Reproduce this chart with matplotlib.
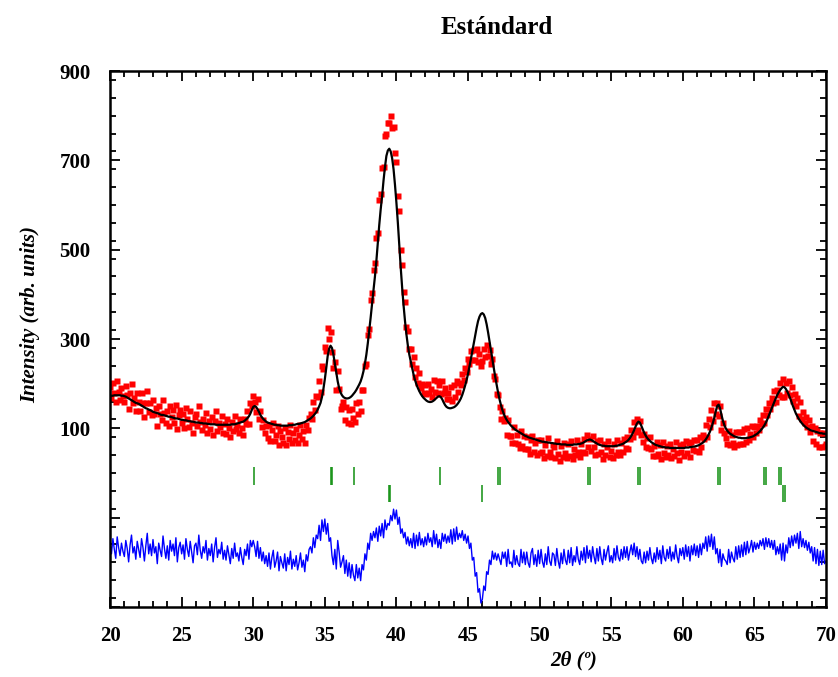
import numpy as np
import matplotlib.pyplot as plt
from matplotlib.ticker import MultipleLocator

plt.rcParams['font.family'] = ['Liberation Serif', 'DejaVu Serif']

# scan: 20-70 deg, step 0.1
start = 20.0
step = 0.1

# calculated profile, one row per degree
y_calc = [
    172, 173, 173, 174, 174, 174, 174, 174, 173, 173,
    172, 171, 169, 167, 165, 163, 161, 159, 157, 156,
    155, 153, 151, 149, 147, 145, 144, 142, 141, 139,
    137, 136, 135, 134, 133, 131, 130, 130, 129, 128,
    127, 126, 126, 125, 124, 123, 122, 122, 121, 120,
    119, 119, 118, 118, 117, 116, 116, 115, 115, 114,
    113, 113, 113, 112, 112, 111, 111, 111, 110, 110,
    109, 109, 109, 109, 108, 108, 108, 108, 108, 108,
    108, 108, 108, 108, 108, 109, 109, 109, 110, 111,
    112, 113, 114, 115, 117, 120, 123, 127, 133, 141,
    148, 150, 148, 143, 137, 130, 125, 121, 118, 115,
    113, 112, 111, 110, 109, 108, 108, 107, 107, 106,
    106, 106, 106, 106, 106, 107, 107, 107, 108, 108,
    109, 110, 110, 111, 112, 113, 114, 116, 118, 120,
    122, 125, 128, 132, 136, 142, 149, 157, 170, 188,
    210, 235, 262, 278, 285, 280, 265, 245, 225, 205,
    190, 180, 174, 170, 168, 167, 167, 168, 170, 173,
    177, 181, 186, 192, 198, 205, 215, 228, 245, 265,
    290, 318, 348, 380, 410, 440, 475, 515, 555, 590,
    620, 655, 685, 710, 722, 726, 720, 705, 680, 645,
    605, 560, 510, 460, 415, 375, 340, 310, 285, 265,
    250, 235, 220, 208, 198, 190, 183, 177, 172, 168,
    165, 162, 160, 159, 159, 160, 162, 165, 168, 171,
    172, 170, 165, 158, 152, 148, 146, 145, 145, 146,
    147, 149, 152, 156, 161, 167, 175, 185, 196, 208,
    222, 238, 255, 272, 290, 308, 325, 340, 350, 356,
    358, 355, 347, 333, 315, 295, 275, 255, 235, 215,
    197, 180, 165, 152, 141, 132, 125, 119, 114, 110,
    106, 103, 100, 97, 95, 93, 91, 89, 87, 85,
    83, 82, 80, 79, 78, 77, 76, 75, 74, 73,
    72, 71, 70, 70, 69, 69, 68, 68, 67, 67,
    66, 66, 65, 65, 65, 64, 64, 64, 64, 63,
    63, 63, 63, 63, 64, 64, 64, 65, 65, 66,
    67, 69, 71, 73, 74, 75, 74, 72, 70, 68,
    66, 64, 63, 62, 61, 61, 60, 60, 60, 60,
    60, 60, 60, 61, 61, 62, 63, 64, 65, 67,
    69, 71, 74, 78, 83, 89, 96, 104, 111, 115,
    113, 106, 98, 90, 84, 79, 75, 72, 69, 67,
    65, 63, 62, 61, 60, 59, 58, 58, 57, 57,
    57, 56, 56, 56, 56, 56, 56, 56, 56, 56,
    56, 56, 57, 57, 57, 58, 58, 59, 59, 60,
    61, 62, 64, 66, 68, 71, 75, 80, 86, 93,
    102, 112, 124, 138, 150, 153, 145, 130, 117, 107,
    100, 95, 91, 88, 86, 84, 82, 81, 80, 79,
    79, 78, 78, 78, 78, 79, 79, 80, 81, 82,
    84, 86, 88, 91, 94, 98, 102, 107, 113, 120,
    128, 136, 144, 152, 160, 168, 175, 181, 186, 190,
    193, 192, 188, 182, 175, 167, 158, 149, 141, 133,
    127, 121, 116, 112, 108, 105, 102, 100, 98, 96,
    95, 94, 93, 92, 91, 90, 89, 89, 88, 88,
    87,
]

# observed - calculated
residual = [
    20, -6, 28, 4, -16, 32, 8, -10, 18, 0,
    -12, 24, 6, -24, 14, 36, -4, 10, -18, 22,
    4, -14, 28, 8, -22, 12, 40, -6, 16, -10,
    26, -4, 10, -28, 18, 2, -12, 34, 6, -16,
    12, -20, 24, 0, 16, -10, 30, -24, 8, 20,
    -6, 14, -18, 28, 4, -12, 22, -2, -26, 12,
    18, -8, 36, 2, -16, 10, -4, 24, -20, 6,
    -10, 16, -24, 8, 30, -14, 4, -6, 20, -18,
    2, -20, 12, -8, -28, 6, -16, 18, -12, -4,
    -22, 8, -14, -30, 4, -10, 16, -18, 24, 10,
    24, 10, -12, 22, -16, 8, -22, -2, -28, -10,
    -34, -4, -40, -14, 2, -36, -22, -2, -44, -12,
    -26, -38, -6, -44, -14, -30, 0, -40, -18, -34,
    -10, -42, -26, -4, -36, -20, -46, -8, -22, 4,
    10, -4, 30, 8, 36, 28, 58, 24, 70, 44,
    72, 38, 62, 22, 30, -10, -30, 4, -40, 24,
    -2, -36, -24, -10, -50, -20, -56, -26, -60, -30,
    -54, -66, -30, -60, -38, -66, -30, -42, -6, -20,
    18, 4, 40, 24, 44, 30, 52, 22, 56, 34,
    62, 30, 70, 48, 62, 58, 80, 68, 94, 72,
    92, 60, 76, 40, 50, 30, 42, 16, 32, 12,
    28, 8, 40, 6, 36, 12, 42, 14, 28, 10,
    32, 14, 40, 20, 30, 10, 46, 16, 38, 8,
    26, 6, 40, 22, 38, 18, 34, 20, 48, 16,
    50, 22, 54, 26, 40, 30, 46, 24, 38, 18,
    34, 6, 18, -20, -14, -56, -48, -92, -84, -116,
    -108, -78, -88, -46, -52, -20, -30, 0, -18, -4,
    -20, -6, -18, -30, -2, -16, -2, -34, 4, -28,
    -24, -36, 2, -30, -10, -28, -34, 4, -26, -2,
    -30, -2, -26, -36, -4, 6, -30, -8, -34, 2,
    -28, 4, -24, -36, -6, -30, 10, -22, -32, -4,
    -8, -32, 6, -22, -38, -4, -28, 4, -20, -30,
    2, -26, 8, -32, -10, -24, 10, -18, -30, 0,
    -20, 8, -26, 12, -16, 2, -24, 10, -12, -28,
    6, -22, 10, -16, -30, 4, -20, -2, 12, -24,
    -10, -26, 6, -20, 12, -14, -22, 4, -18, 10,
    -14, 10, -20, -2, 14, -8, 18, -12, 10, -18,
    4, -22, -28, -2, -26, 0, -20, 8, -16, -28,
    -4, -24, 8, -18, 2, -28, 12, -14, -22, 4,
    -16, 10, -22, -2, -18, 14, -12, -26, 6, -10,
    8, -18, 14, -12, 10, -22, 12, -8, 16, -10,
    12, -14, 16, -8, 18, 6, 32, 0, 34, 10,
    38, 4, 32, -6, 6, -26, 4, -34, -6, -18,
    -22, -30, 4, -26, -2, -16, -24, 10, -18, 12,
    -14, 14, -12, 20, -8, 22, -4, 8, 24, -2,
    20, 4, 18, 6, 24, 12, 28, 4, 30, 10,
    28, 8, 24, 4, 24, -8, 10, -6, 16, -20,
    18, -22, 14, -4, 30, 8, 34, 12, 36, 18,
    40, 6, 44, 10, 28, 8, 24, 2, 20, -4,
    10, -22, 8, -28, 4, -32, 0, -30, 2, -28,
    -22,
]

diff_offset = -175

# Bragg positions, two phases
phase1_pos = [30.05, 35.40, 35.49, 37.05, 43.05, 47.10, 47.22, 53.40, 53.54,
              56.85, 57.00, 62.45, 62.62, 65.65, 65.83, 66.70, 66.89]
phase2_pos = [39.45, 39.56, 45.98, 66.97, 67.16]

xticks = [20, 25, 30, 35, 40, 45, 50, 55, 60, 65, 70]
yticks = [-300, -100, 100, 300, 500, 700, 900]
yticklabels = ['', '', '100', '300', '500', '700', '900']

two_theta = start + step * np.arange(len(y_calc))
y_calc = np.array(y_calc)
residual = np.array(residual)
y_obs = y_calc + residual

fig = plt.figure(figsize=(8.38, 6.77), dpi=100)
ax = fig.add_axes([0.1313, 0.1034, 0.8544, 0.7917])

ax.plot(two_theta, y_obs, 's', color='#ff0000', ms=4.2, mec='none', zorder=2)
ax.plot(two_theta, y_calc, color='black', lw=1.6, zorder=3)
ax.plot(two_theta, residual + diff_offset, color='#0000ff', lw=1.0, zorder=2)
ax.vlines(phase1_pos, -26, 14, color='#109010', lw=1.1)
ax.vlines(phase2_pos, -64, -26, color='#109010', lw=1.1)

ax.set_xlim(20, 70)
ax.set_ylim(-300, 900)
ax.set_xticks(xticks)
ax.set_yticks(yticks)
ax.set_yticklabels(yticklabels)
ax.xaxis.set_minor_locator(MultipleLocator(1))
ax.yaxis.set_minor_locator(MultipleLocator(40))
ax.tick_params(which='both', direction='in', top=True, right=True, width=1.3)
ax.tick_params(which='major', length=7, labelsize=15, pad=14)
ax.tick_params(which='minor', length=4)
for lab in ax.get_xticklabels() + ax.get_yticklabels():
    lab.set_fontweight('bold')
for sp in ax.spines.values():
    sp.set_linewidth(1.8)

fig.text(0.593, 0.96, 'Estándard', ha='center', va='center',
         fontsize=18, fontweight='bold')
fig.text(0.036, 0.535, 'Intensity (arb. units)', rotation=90, ha='center',
         va='center', fontsize=15, fontweight='bold', style='italic')
fig.text(0.685, 0.025, '2θ (º)', ha='center', va='center',
         fontsize=15, fontweight='bold', style='italic')

fig.savefig('out.png', dpi=100)
